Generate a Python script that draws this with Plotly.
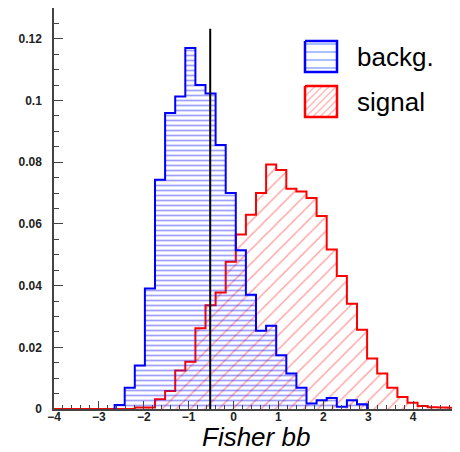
import numpy as np
import plotly.graph_objects as go

# histogram binning (40 bins from -4 to 5)
bin_lo, bin_hi, n_bins = -4.0, 5.0, 40

# background: bins 6..30 (all other bins empty)
bkg_first_bin = 6
bkg_values = [0.0013, 0.0069, 0.0141, 0.0391, 0.0743, 0.0960, 0.1013, 0.1170,
              0.1050, 0.1023, 0.0856, 0.0700, 0.0515, 0.0370, 0.0254, 0.0270,
              0.0174, 0.0115, 0.0069, 0.0018, 0.0028, 0.0036, 0.0007, 0.0028,
              0.0015]

# signal: all 40 bins
sig_values = [0, 0, 0, 0, 0, 0, 0, 0,
              0.0005, 0.0005, 0.0032, 0.0058, 0.0125, 0.0153, 0.0262, 0.0336,
              0.0378, 0.0477, 0.0566, 0.0630, 0.0700, 0.0793, 0.0775, 0.0714,
              0.0705, 0.0684, 0.0626, 0.0517, 0.0431, 0.0341, 0.0257, 0.0164,
              0.0115, 0.0069, 0.0039, 0.0020, 0.0010, 0.0006, 0.0005, 0.0004]

cut_value = -0.52
cut_top = 0.1233

legend_names = ["backg.", "signal"]
x_title = "Fisher bb"

edges = np.linspace(bin_lo, bin_hi, n_bins + 1)


def step_xy(values, first_bin):
    n = len(values)
    e = edges[first_bin:first_bin + n + 1]
    x = [e[0]] + list(e)
    y = [0] + list(values) + [0]
    return x, y


fig = go.Figure()

sx, sy = step_xy(sig_values, 0)
fig.add_trace(go.Scatter(
    x=sx, y=sy, mode="lines", line=dict(color="#ff0000", width=2, shape="hv"),
    fill="tozeroy", fillcolor="rgba(0,0,0,0)",
    fillpattern=dict(shape="/", size=10, solidity=0.15, fgcolor="rgba(255,50,50,0.9)",
                     bgcolor="rgba(0,0,0,0)", fillmode="overlay"),
    showlegend=False, hoverinfo="skip"))

bx, by = step_xy(bkg_values, bkg_first_bin)
fig.add_trace(go.Scatter(
    x=bx, y=by, mode="lines", line=dict(color="#0000ff", width=2, shape="hv"),
    fill="tozeroy", fillcolor="rgba(0,0,0,0)",
    fillpattern=dict(shape="-", size=5, solidity=0.35, fgcolor="rgba(30,30,255,0.85)",
                     bgcolor="rgba(0,0,0,0)", fillmode="overlay"),
    showlegend=False, hoverinfo="skip"))

fig.add_shape(type="line", xref="x", yref="y", x0=cut_value, x1=cut_value,
              y0=0, y1=cut_top, line=dict(color="black", width=2))

# hand-drawn legend on an overlay axis in page pixel units
box_styles = [
    dict(color="#0000ff", pattern=dict(shape="-", size=8, solidity=0.22, fgcolor="#3a6cff",
                                       bgcolor="rgba(0,0,0,0)", fillmode="overlay")),
    dict(color="#ff0000", pattern=dict(shape="/", size=5, solidity=0.25, fgcolor="rgba(255,70,70,0.9)",
                                       bgcolor="rgba(0,0,0,0)", fillmode="overlay")),
]
box_tops = [41, 86]
for name, st, top in zip(legend_names, box_styles, box_tops):
    x0, x1, y0, y1 = 305, 337, top, top + 31
    fig.add_trace(go.Scatter(
        x=[x0, x1, x1, x0, x0], y=[y0, y0, y1, y1, y0], xaxis="x2", yaxis="y2",
        mode="lines", line=dict(color=st["color"], width=2.5),
        fill="toself", fillcolor="rgba(0,0,0,0)", fillpattern=st["pattern"],
        showlegend=False, hoverinfo="skip"))
    fig.add_annotation(x=355, y=top + 15.5, xref="x2", yref="y2", text=name,
                       showarrow=False, xanchor="left", yanchor="middle",
                       font=dict(size=26, color="black", family="Liberation Sans, Arial"))

fig.add_annotation(x=0.5, y=-0.071, xref="paper", yref="paper", text=x_title,
                   showarrow=False, xanchor="center", yanchor="middle",
                   font=dict(size=26, color="black", family="Liberation Sans, Arial",
                             style="italic"))

tick_font = dict(size=12, color="#222", family="Liberation Sans, Arial", weight="bold")

# page has an 8px body margin, so the figure is sized to fit inside it
fig.update_layout(
    width=452, height=444,
    margin=dict(l=46, r=2, t=0, b=43),
    paper_bgcolor="white", plot_bgcolor="white",
    xaxis=dict(range=[bin_lo, bin_hi], dtick=1, ticks="inside", ticklen=8, tickwidth=1,
               tickcolor="#444", showgrid=False, zeroline=False, automargin=False,
               showline=True, linecolor="#444", linewidth=1.5, mirror=True,
               minor=dict(dtick=0.2, ticks="inside", ticklen=4, tickcolor="#444"),
               tickfont=tick_font, ticklabelstandoff=-4, ticklabeloverflow="allow"),
    yaxis=dict(range=[0, 0.13], tickvals=[0, 0.02, 0.04, 0.06, 0.08, 0.1, 0.12],
               ticktext=["0", "0.02", "0.04", "0.06", "0.08", "0.1", "0.12"],
               ticks="inside", ticklen=9, tickwidth=1, tickcolor="#444",
               showgrid=False, zeroline=False, automargin=False,
               showline=True, linecolor="#444", linewidth=1.5, mirror=True,
               minor=dict(dtick=0.005, ticks="inside", ticklen=5, tickcolor="#444"),
               tickfont=tick_font, ticklabelstandoff=8),
    xaxis2=dict(overlaying="x", range=[54, 458], visible=False, fixedrange=True),
    yaxis2=dict(overlaying="y", range=[409, 8], visible=False, fixedrange=True),
)

fig.write_html("out.html")
